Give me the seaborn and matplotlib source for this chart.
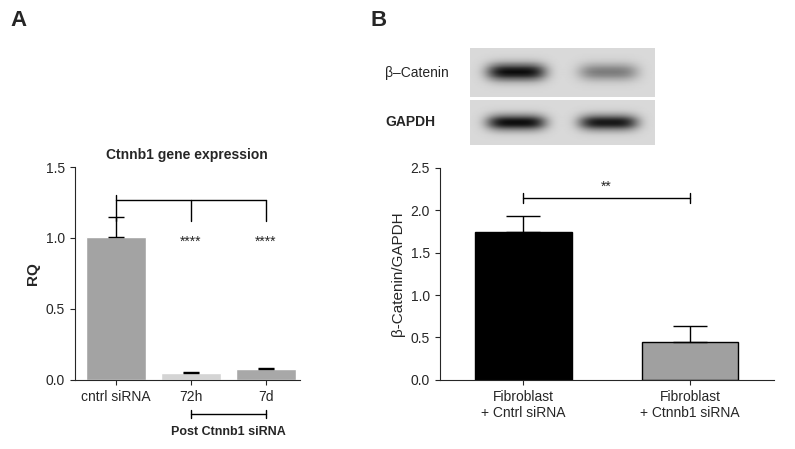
import numpy as np
import matplotlib
matplotlib.use("Agg")
import matplotlib.pyplot as plt
import seaborn as sns
import pandas as pd

sns.set_style("ticks")
plt.rcParams['font.family'] = ['Liberation Sans', 'DejaVu Sans']

a_cats = ["cntrl siRNA", "72h", "7d"]
a_vals = [1.01, 0.05, 0.08]
a_err = [0.14, 0.005, 0.005]
a_cols = ["#a3a3a3", "#d4d4d4", "#a8a8a8"]

b_cats = ["Fibroblast\n+ Cntrl siRNA", "Fibroblast\n+ Ctnnb1 siRNA"]
b_vals = [1.75, 0.45]
b_err = [0.18, 0.18]
b_cols = ["#000000", "#a0a0a0"]

blot_cat = [1.0, 0.45]   # band intensities
blot_gapdh = [1.0, 0.95]

fig = plt.figure(figsize=(7.95, 4.49), dpi=100)

# Panel A
axA = fig.add_axes([0.094, 0.154, 0.283, 0.474])
dfA = pd.DataFrame({"c": a_cats, "v": a_vals})
sns.barplot(data=dfA, x="c", y="v", hue="c", palette=a_cols, ax=axA, width=0.8, legend=False)
axA.errorbar(range(3), a_vals, yerr=[[0]*3, a_err], fmt="none", ecolor="black", capsize=6, lw=1)
axA.set_ylim(0, 1.5)
axA.set_yticks([0, 0.5, 1.0, 1.5])
axA.set_xlim(-0.55, 2.45)
axA.set_xlabel("")
axA.set_ylabel("RQ", fontsize=11, fontweight="bold")
axA.set_title("Ctnnb1 gene expression", fontsize=10, fontweight="bold")
axA.tick_params(labelsize=10)
sns.despine(ax=axA)
yb = 1.27
axA.plot([0, 2], [yb, yb], color="k", lw=1, clip_on=False)
for x in [0, 1, 2]:
    axA.plot([x, x], [yb - 0.15, yb], color="k", lw=1)
axA.plot([0, 0], [yb, yb + 0.03], color="k", lw=1)
for x in [1, 2]:
    axA.text(x, 0.97, "****", ha="center", va="center", fontsize=10)
yp = -0.24
axA.plot([1, 2], [yp, yp], color="k", lw=1, clip_on=False)
for x in [1, 2]:
    axA.plot([x, x], [yp - 0.03, yp + 0.03], color="k", lw=1, clip_on=False)
axA.text(1.5, -0.37, "Post Ctnnb1 siRNA", ha="center", va="center", fontsize=9, fontweight="bold")

# Panel B
axB = fig.add_axes([0.553, 0.154, 0.42, 0.472])
dfB = pd.DataFrame({"c": b_cats, "v": b_vals})
sns.barplot(data=dfB, x="c", y="v", hue="c", palette=b_cols, ax=axB, width=0.58,
            edgecolor="black", linewidth=1, legend=False)
axB.errorbar(range(2), b_vals, yerr=[[0]*2, b_err], fmt="none", ecolor="black", capsize=12, lw=1)
axB.set_ylim(0, 2.5)
axB.set_yticks(np.arange(0, 2.51, 0.5))
axB.set_xlim(-0.5, 1.5)
axB.set_xlabel("")
axB.set_ylabel("β-Catenin/GAPDH", fontsize=11)
axB.tick_params(labelsize=10)
sns.despine(ax=axB)
axB.plot([0, 1], [2.15, 2.15], color="k", lw=1)
for x in [0, 1]:
    axB.plot([x, x], [2.09, 2.21], color="k", lw=1)
axB.text(0.5, 2.2, "**", ha="center", va="bottom", fontsize=10)

# Blot
def strip(vals, h=40, w=185):
    xs = np.linspace(0, 1, w)
    ys = np.linspace(-1, 1, h)
    X, Y = np.meshgrid(xs, ys)
    img = np.zeros_like(X)
    for i, v in enumerate(vals):
        cx = 0.25 + 0.5 * i
        img += v * np.exp(-((X - cx) / 0.16) ** 4 - (Y / 0.35) ** 2)
    return 0.85 - 0.8 * np.clip(img, 0, 1)

ax1 = fig.add_axes([470/795, 1 - 97/449, 185/795, 49/449])
ax1.imshow(strip(blot_cat), cmap="gray", vmin=0, vmax=1, aspect="auto")
ax1.axis("off")
ax2 = fig.add_axes([470/795, 1 - 145/449, 185/795, 45/449])
ax2.imshow(strip(blot_gapdh), cmap="gray", vmin=0, vmax=1, aspect="auto")
ax2.axis("off")
fig.text(385/795, 1 - 73/449, "β–Catenin", fontsize=10, va="center")
fig.text(385/795, 1 - 122/449, "GAPDH", fontsize=10, fontweight="bold", va="center")

fig.text(10/795, 1 - 20/449, "A", fontsize=16, fontweight="bold", va="center")
fig.text(370/795, 1 - 20/449, "B", fontsize=16, fontweight="bold", va="center")

fig.savefig("out.png", dpi=100)
